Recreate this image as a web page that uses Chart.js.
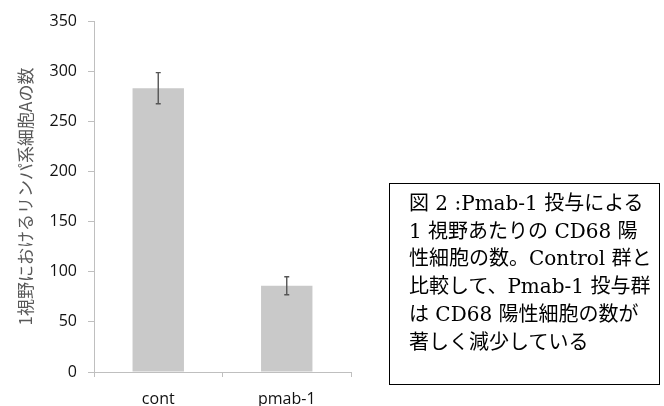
<!DOCTYPE html>
<html>
<head>
<meta charset="utf-8">
<script src="https://cdn.jsdelivr.net/npm/chart.js@4/dist/chart.umd.min.js"></script>
<style>
  html, body { margin: 0; padding: 0; background: #fff; }
  #wrap { position: relative; width: 664px; height: 406px; }
  #chart { position: absolute; left: 0; top: 0; }
  #note {
    position: absolute; left: 389px; top: 183px; width: 271px; height: 202px;
    box-sizing: border-box; border: 1.5px solid #000;
    padding: 6px 0 0 19px;
    font-family: "DejaVu Serif", "Noto Sans CJK JP", serif;
    font-size: 20px; line-height: 27.7px; color: #000; white-space: nowrap;
  }
</style>
</head>
<body>
<div id="wrap">
  <canvas id="chart" width="664" height="406"></canvas>
  <div id="note">図 2 :Pmab-1 投与による<br>1 視野あたりの CD68 陽<br>性細胞の数。Control 群と<br>比較して、Pmab-1 投与群<br>は CD68 陽性細胞の数が<br>著しく減少している</div>
</div>
<script>
  // data
  var groups = ['cont', 'pmab-1'];
  var counts = [283, 86];
  var errors = [15.5, 9];
  var yTicks = [0, 50, 100, 150, 200, 250, 300, 350];

  var axisGray = '#bfbfbf';

  /* error bars drawn on top of the bars */
  var errorBars = {
    id: 'errorBars',
    afterDatasetsDraw: function(chart) {
      var ctx = chart.ctx, y = chart.scales.y;
      var meta = chart.getDatasetMeta(0);
      ctx.save();
      ctx.strokeStyle = '#555';
      ctx.lineWidth = 1.4;
      meta.data.forEach(function(bar, i) {
        var top = y.getPixelForValue(counts[i] + errors[i]);
        var bot = y.getPixelForValue(counts[i] - errors[i]);
        ctx.beginPath();
        ctx.moveTo(bar.x, top); ctx.lineTo(bar.x, bot);
        ctx.moveTo(bar.x - 2.5, top); ctx.lineTo(bar.x + 2.5, top);
        ctx.moveTo(bar.x - 2.5, bot); ctx.lineTo(bar.x + 2.5, bot);
        ctx.stroke();
      });
      ctx.restore();
    }
  };

  new Chart(document.getElementById('chart'), {
    type: 'bar',
    data: {
      labels: groups,
      datasets: [{ data: counts, backgroundColor: '#c9c9c9', categoryPercentage: 0.4, barPercentage: 1 }]
    },
    options: {
      responsive: false,
      animation: false,
      layout: { padding: { left: 0, right: 313, top: 21, bottom: 0 } },
      plugins: { legend: { display: false }, tooltip: { enabled: false } },
      scales: {
        x: {
          offset: true,
          grid: { offset: true, drawOnChartArea: false, drawTicks: true, tickLength: 5, color: axisGray },
          border: { color: axisGray },
          ticks: { color: '#111', padding: 13, font: { family: 'Open Sans', size: 16 } },
          afterFit: function(s) { s.height = 34; }
        },
        y: {
          min: 0, max: 350,
          afterBuildTicks: function(s) { s.ticks = yTicks.map(function(v) { return { value: v }; }); },
          grid: { drawOnChartArea: false, drawTicks: true, tickLength: 6, color: axisGray },
          border: { color: axisGray },
          ticks: { color: '#111', padding: 11, font: { family: 'Open Sans', size: 16 } },
          title: {
            display: true, text: '1視野におけるリンパ系細胞Aの数',
            color: '#595959', padding: 15,
            font: { family: '"Noto Sans CJK JP", "Open Sans"', size: 17 }
          },
          afterFit: function(s) { s.width = 94; }
        }
      }
    },
    plugins: [errorBars]
  });
</script>
</body>
</html>
